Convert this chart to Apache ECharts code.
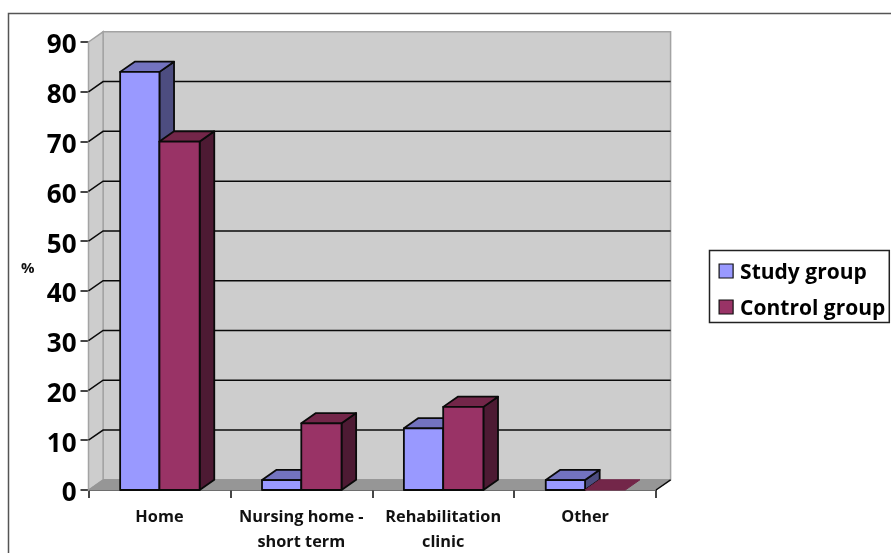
<!DOCTYPE html>
<html>
<head>
<meta charset="utf-8">
<style>html,body{margin:0;padding:0;background:#fff}#c{width:891px;height:553px}</style>
<script src="https://cdn.jsdelivr.net/npm/echarts@6/dist/echarts.min.js"></script>
</head>
<body>
<div id="c"></div>
<script>
const categories = ['Home', 'Nursing home -\nshort term', 'Rehabilitation\nclinic', 'Other'];
const studyGroup = [84, 2, 12.4, 2];
const controlGroup = [70, 13.4, 16.7, 0];
const tickValues = [0, 10, 20, 30, 40, 50, 60, 70, 80, 90];

const DX = 14.6, DY = 10.2;
const FONT = '"Open Sans", sans-serif';
const BLACK = '#0a0a0a';

const chart = echarts.init(document.getElementById('c'), null, {renderer: 'canvas'});

function backdrop(params, api) {
  const cs = params.coordSys;
  const x0 = cs.x, x1 = cs.x + cs.width, yB = cs.y + cs.height, yT = cs.y;
  const children = [];
  const edge = {stroke: '#a3a3a3', lineWidth: 1.5};
  children.push({type: 'polygon', shape: {points: [[x0 + DX, yT - DY], [x1 + DX, yT - DY], [x1 + DX, yB - DY], [x0 + DX, yB - DY]]},
    style: Object.assign({fill: '#cdcdcd'}, edge)});
  children.push({type: 'polygon', shape: {points: [[x0, yT], [x0 + DX, yT - DY], [x0 + DX, yB - DY], [x0, yB]]},
    style: Object.assign({fill: '#cdcdcd'}, edge)});
  children.push({type: 'polygon', shape: {points: [[x0, yB], [x0 + DX, yB - DY], [x1 + DX, yB - DY], [x1, yB]]},
    style: {fill: '#969696', stroke: '#969696', lineWidth: 1}});
  tickValues.forEach(v => {
    if (v === 0 || v === tickValues[tickValues.length - 1]) return;
    const y = api.coord([0, v])[1];
    children.push({type: 'polyline', shape: {points: [[x0, y], [x0 + DX, y - DY], [x1 + DX, y - DY]]},
      style: {stroke: BLACK, lineWidth: 1.5, fill: null}});
  });
  children.push({type: 'line', shape: {x1: x1, y1: yB, x2: x1 + DX, y2: yB - DY}, style: {stroke: BLACK, lineWidth: 1.5}});
  return {type: 'group', children: children};
}

function barRenderer(slot, widthShare, front, top, side) {
  return function (params, api) {
    const idx = api.value(0), val = api.value(1);
    const base = api.coord([idx, 0]);
    const head = api.coord([idx, val]);
    const w = api.size([1, 0])[0] * widthShare;
    const l = base[0] + (slot === 0 ? -w : 0), r = l + w;
    const yb = base[1], yt = head[1];
    const line = {stroke: BLACK, lineWidth: 1.8, lineJoin: 'round'};
    const ch = [];
    if (val > 0) {
      ch.push({type: 'polygon', shape: {points: [[r, yt], [r + DX, yt - DY], [r + DX, yb - DY], [r, yb]]},
        style: Object.assign({fill: side}, line)});
    }
    ch.push({type: 'polygon', shape: {points: [[l, yt], [l + DX, yt - DY], [r + DX, yt - DY], [r, yt]]},
      style: Object.assign({fill: top}, val > 0 ? line : {stroke: top, lineWidth: 1})});
    if (val > 0) {
      ch.push({type: 'rect', shape: {x: l, y: yt, width: w, height: yb - yt},
        style: Object.assign({fill: front}, line)});
    }
    return {type: 'group', children: ch};
  };
}

chart.setOption({
  animation: false,
  backgroundColor: '#ffffff',
  textStyle: {fontFamily: FONT},
  graphic: [{type: 'rect', silent: true, z: -10, shape: {x: 8.5, y: 13.5, width: 1000, height: 1000},
    style: {fill: 'none', stroke: '#555555', lineWidth: 1.5}}],
  grid: {left: 88.5, right: 235, top: 42, bottom: 63, containLabel: false, outerBoundsMode: 'none'},
  legend: {
    orient: 'vertical', left: 709.5, top: 250.5,
    padding: [12.5, 4, 2.5, 9], itemGap: 15, itemWidth: 14, itemHeight: 14, icon: 'rect',
    borderColor: '#222222', borderWidth: 1.5, backgroundColor: '#ffffff',
    itemStyle: {borderColor: '#111', borderWidth: 1.2},
    data: ['Study group', 'Control group'],
    formatter: '{t|{name}}',
    textStyle: {fontFamily: FONT, fontWeight: 'bold', fontSize: 21, color: '#000',
      rich: {t: {fontFamily: FONT, fontWeight: 'bold', fontSize: 21, color: '#000', padding: [5, 0, 0, 2]}}}
  },
  xAxis: {
    type: 'category', data: categories, boundaryGap: true,
    axisLine: {lineStyle: {color: BLACK, width: 1.5}},
    axisTick: {show: true, length: 8, lineStyle: {color: BLACK, width: 1.5}},
    axisLabel: {fontFamily: FONT, fontWeight: 'bold', fontSize: 16.3, color: '#111', lineHeight: 25, margin: 15, interval: 0}
  },
  yAxis: {
    type: 'value', min: 0, max: 90, interval: 10, name: '%', nameLocation: 'middle', nameRotate: 0, nameGap: 54,
    nameTextStyle: {fontFamily: FONT, fontWeight: 'bold', fontSize: 15, color: '#111', verticalAlign: 'top', lineHeight: 6},
    splitLine: {show: false},
    axisLine: {show: true, lineStyle: {color: BLACK, width: 1.5}},
    axisTick: {show: true, length: 8, lineStyle: {color: BLACK, width: 1.5}},
    axisLabel: {fontFamily: FONT, fontWeight: 'bold', fontSize: 26, color: '#000', margin: 12, verticalAlign: 'top', lineHeight: 8}
  },
  series: [
    {type: 'custom', name: 'backdrop', silent: true, clip: false, z: 1, data: [[0, 0]], renderItem: backdrop, encode: {x: 0, y: 1}},
    {type: 'custom', name: 'Study group', clip: false, z: 3, itemStyle: {color: '#9999ff'},
      data: studyGroup.map((v, i) => [i, v]), encode: {x: 0, y: 1},
      renderItem: barRenderer(0, 0.277, '#9999ff', '#7373bf', '#4d4d80')},
    {type: 'custom', name: 'Control group', clip: false, z: 4, itemStyle: {color: '#993366'},
      data: controlGroup.map((v, i) => [i, v]), encode: {x: 0, y: 1},
      renderItem: barRenderer(1, 0.2835, '#993366', '#732649', '#4d1a33')}
  ]
});
</script>
</body>
</html>
